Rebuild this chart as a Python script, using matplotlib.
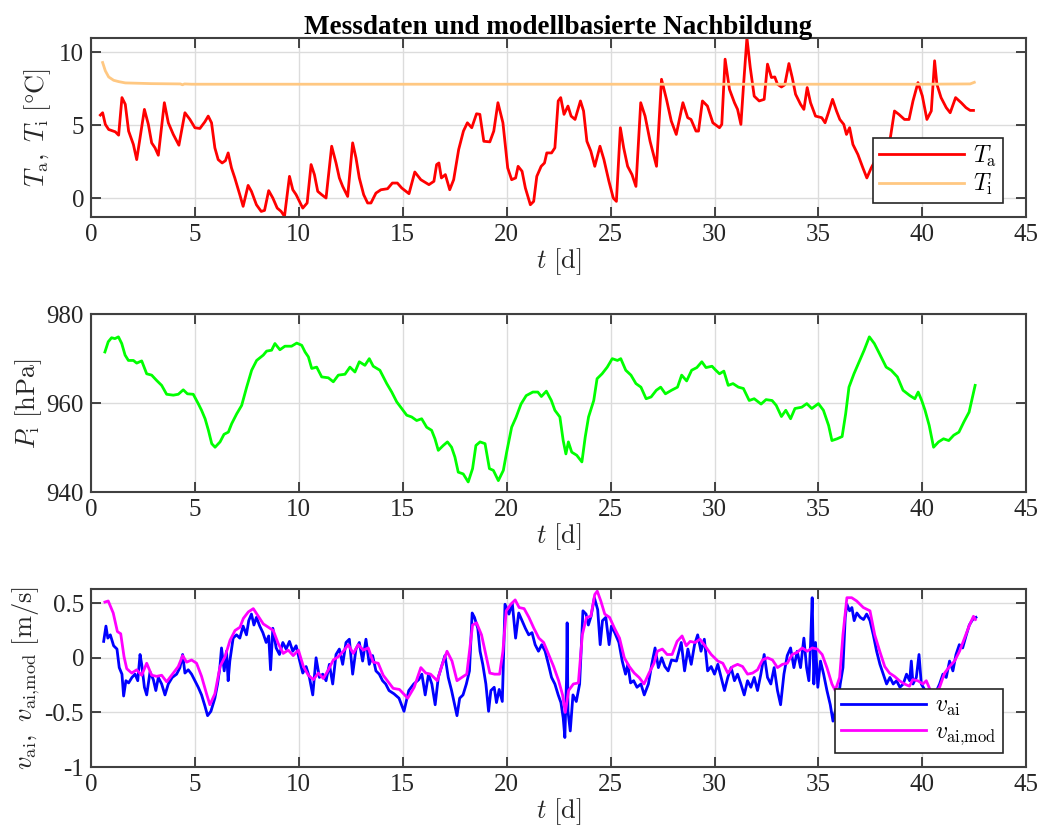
import numpy as np
import matplotlib
matplotlib.use("Agg")
import matplotlib.pyplot as plt

# Aussentemperatur T_a (Messung)
t_ta = [0.45, 0.56, 0.69, 0.85, 1.17, 1.33, 1.49, 1.65, 1.81, 2.04, 2.2, 2.36, 2.57, 2.76, 2.92,
        3.08, 3.24, 3.53, 3.72, 3.96, 4.23, 4.52, 4.76, 5.0, 5.24, 5.48, 5.64, 5.8, 5.96, 6.12,
        6.31, 6.47, 6.6, 6.76, 6.92, 7.16, 7.32, 7.56, 7.72, 7.96, 8.19, 8.35, 8.55, 8.75, 8.96,
        9.15, 9.31, 9.55, 9.71, 9.87, 10.03, 10.19, 10.4, 10.59, 10.75, 10.91, 11.1, 11.31, 11.58,
        11.79, 11.95, 12.11, 12.35, 12.59, 12.75, 12.91, 13.12, 13.31, 13.47, 13.71, 13.95, 14.27,
        14.5, 14.74, 14.95, 15.3, 15.58, 15.87, 16.26, 16.5, 16.63, 16.74, 16.86, 17.05, 17.26,
        17.45, 17.69, 17.92, 18.11, 18.32, 18.55, 18.71, 18.9, 19.19, 19.38, 19.58, 19.82, 20.05,
        20.24, 20.43, 20.55, 20.74, 20.9, 21.14, 21.3, 21.45, 21.66, 21.82, 21.93, 22.16, 22.32,
        22.48, 22.6, 22.76, 22.95, 23.1, 23.29, 23.55, 23.7, 23.86, 24.05, 24.24, 24.49, 24.68,
        24.92, 25.13, 25.28, 25.47, 25.63, 25.82, 26.03, 26.22, 26.45, 26.66, 26.9, 27.21, 27.45,
        27.69, 27.92, 28.16, 28.48, 28.71, 28.87, 29.11, 29.23, 29.42, 29.66, 29.92, 30.24, 30.35,
        30.51, 30.72, 30.96, 31.11, 31.27, 31.4, 31.56, 31.72, 31.91, 32.15, 32.39, 32.55, 32.74,
        32.9, 33.03, 33.22, 33.38, 33.58, 33.74, 33.9, 34.14, 34.3, 34.46, 34.62, 34.86, 35.16,
        35.32, 35.48, 35.68, 35.87, 36.03, 36.22, 36.35, 36.5, 36.66, 36.9, 37.14, 37.33, 37.54,
        37.9, 38.2, 38.44, 38.66, 38.87, 39.14, 39.36, 39.55, 39.79, 40.0, 40.22, 40.43, 40.59,
        40.7, 40.9, 41.15, 41.34, 41.6, 41.87, 42.1, 42.3, 42.46]
ta = [5.7, 5.86, 5.06, 4.71, 4.55, 4.32, 6.9, 6.44, 4.6, 3.68, 2.64, 4.14, 6.09, 5.06, 3.79,
      3.45, 2.94, 6.55, 5.17, 4.37, 3.63, 5.86, 5.4, 4.83, 4.78, 5.24, 5.63, 5.17, 3.45, 2.64,
      2.41, 2.57, 3.1, 2.07, 1.38, 0.23, -0.57, 0.87, 0.46, -0.46, -0.92, -0.85, 0.51, 0.0, -0.69,
      -0.92, -1.26, 1.49, 0.57, 0.23, -0.23, -0.69, -0.34, 2.3, 1.61, 0.46, 0.23, 0.0, 3.56,
      2.41, 1.38, 0.8, 0.11, 3.79, 2.76, 1.38, 0.23, -0.34, -0.34, 0.34, 0.57, 0.64,
      1.03, 1.03, 0.69, 0.3, 1.79, 1.26, 0.92, 1.15, 2.3, 2.41, 1.38, 1.61, 0.57,
      1.26, 3.33, 4.6, 5.17, 4.83, 5.79, 5.75, 3.9, 3.86, 4.6, 6.55, 5.17, 2.07,
      1.26, 1.38, 2.18, 1.84, 0.69, -0.46, -0.23, 1.49, 2.18, 2.41, 3.1, 3.1, 3.45,
      6.67, 6.9, 5.75, 6.32, 5.63, 5.4, 6.67, 5.98, 3.9, 3.22, 2.18, 3.56, 2.64,
      1.15, 0.0, -0.23, 4.83, 3.45, 2.18, 1.61, 0.8, 6.55, 5.63, 3.9, 2.18, 8.16,
      6.78, 5.29, 4.37, 6.55, 5.52, 5.4, 4.6, 4.6, 6.67, 6.32, 5.17, 4.83, 5.06,
      9.54, 7.47, 6.55, 6.09, 5.06, 7.82, 11.0, 8.97, 7.0, 6.67, 6.78, 9.2, 8.28,
      8.32, 7.82, 7.63, 7.78, 9.24, 8.28, 7.13, 6.44, 6.09, 7.59, 6.55, 5.63, 5.52,
      5.17, 5.86, 6.78, 5.98, 5.4, 5.06, 4.37, 4.83, 3.68, 2.99, 2.07, 1.38, 2.07,
      3.0, 3.6, 3.95, 5.98, 5.75, 5.4, 5.4, 6.67, 7.93, 7.01, 5.4, 5.98, 9.43,
      7.82, 6.9, 6.21, 5.86, 6.9, 6.55, 6.21, 6.02, 6.02]

# Innentemperatur T_i
t_ti = [0.56, 0.69, 0.85, 1.09, 1.33, 1.65, 2.92, 4.3, 4.4, 4.5, 4.84, 10.0, 20.0, 30.0, 40.0, 42.3, 42.5]
ti = [9.31, 8.74, 8.32, 8.09, 8.0, 7.91, 7.86, 7.84, 7.78, 7.84, 7.82, 7.82, 7.82, 7.82, 7.82, 7.84, 7.95]

# Innendruck P_i
t_p = [0.67, 0.83, 0.99, 1.15, 1.32, 1.48, 1.64, 1.8, 2.04, 2.2, 2.44, 2.68, 2.92, 3.16, 3.4,
       3.64, 3.96, 4.2, 4.44, 4.64, 4.92, 5.16, 5.32, 5.49, 5.65, 5.81, 5.97, 6.21, 6.4, 6.61,
       6.77, 7.01, 7.25, 7.49, 7.73, 7.97, 8.29, 8.45, 8.69, 8.85, 9.09, 9.33, 9.65, 9.9, 10.14,
       10.3, 10.46, 10.62, 10.86, 11.1, 11.42, 11.66, 11.9, 12.22, 12.46, 12.7, 12.91, 13.18,
       13.39, 13.58, 13.9, 14.23, 14.47, 14.71, 14.95, 15.19, 15.43, 15.67, 15.91, 16.15, 16.39,
       16.55, 16.71, 16.95, 17.15, 17.35, 17.51, 17.67, 17.91, 18.15, 18.36, 18.52, 18.72, 18.96,
       19.17, 19.36, 19.6, 19.84, 20.0, 20.24, 20.45, 20.69, 20.94, 21.26, 21.5, 21.67, 21.91,
       22.15, 22.32, 22.56, 22.72, 22.85, 22.97, 23.13, 23.37, 23.62, 23.78, 23.94, 24.19, 24.35,
       24.59, 24.84, 25.08, 25.33, 25.49, 25.73, 25.98, 26.22, 26.46, 26.71, 26.95, 27.2, 27.41,
       27.64, 27.93, 28.22, 28.42, 28.66, 28.9, 29.15, 29.39, 29.59, 29.88, 30.04, 30.24, 30.45,
       30.66, 30.89, 31.15, 31.39, 31.67, 31.91, 32.24, 32.48, 32.77, 32.97, 33.22, 33.43, 33.66,
       33.87, 34.2, 34.44, 34.68, 35.0, 35.24, 35.49, 35.65, 35.9, 36.14, 36.31, 36.47, 36.71,
       36.96, 37.2, 37.45, 37.69, 37.94, 38.26, 38.5, 38.8, 39.07, 39.4, 39.64, 39.8, 39.97,
       40.13, 40.33, 40.54, 40.78, 41.02, 41.27, 41.51, 41.76, 42.0, 42.25, 42.54]
p = [971.5, 973.8, 974.7, 974.5, 974.9, 973.4, 970.8, 969.6, 969.6, 969.0, 969.5, 966.6, 966.3, 965.1, 964.0,
     962.0, 961.8, 962.0, 963.0, 962.1, 962.0, 959.9, 958.4, 956.5, 953.9, 950.9, 950.1, 951.3, 953.0, 953.5,
     955.4, 957.6, 959.5, 963.6, 967.4, 969.6, 970.8, 971.7, 971.9, 973.4, 972.0, 972.8, 972.8, 973.5, 973.0,
     971.5, 970.4, 967.8, 968.1, 965.9, 965.7, 964.8, 966.3, 966.5, 968.1, 967.0, 969.3, 968.5,
     970.0, 968.3, 967.4, 964.4, 962.5, 960.3, 958.8, 957.3, 956.9, 956.1, 956.5, 954.6, 953.9,
     952.0, 949.4, 950.5, 951.3, 950.1, 947.9, 944.5, 944.1, 942.3, 945.3, 950.5, 951.3, 950.9,
     945.3, 944.9, 942.6, 944.9, 949.0, 954.6, 956.8, 959.8, 961.7, 962.5, 962.5, 961.5, 962.7,
     960.6, 958.4, 956.9, 951.6, 948.6, 951.3, 949.0, 948.3, 946.8, 952.4, 956.9, 960.6, 965.5,
     966.6, 968.1, 970.0, 969.6, 970.0, 967.4, 966.3, 964.4, 963.6, 961.0, 961.4, 962.9, 963.6,
     962.1, 962.9, 963.6, 966.3, 965.0, 967.4, 968.0, 969.3, 968.0, 968.3, 967.5, 966.6, 967.2,
     964.0, 964.4, 963.6, 963.3, 960.6, 961.0, 959.8, 960.8, 960.6, 959.5, 957.0, 958.4, 956.5,
     958.8, 959.1, 959.9, 958.8, 959.9, 958.4, 955.0, 951.6, 952.0, 952.5, 957.6, 963.6, 966.6,
     969.3, 971.9, 974.9, 973.4, 971.1, 968.1, 967.4, 965.9, 962.9, 961.7, 961.0, 962.5, 960.6,
     958.4, 955.0, 950.1, 951.3, 952.0, 951.6, 952.8, 953.5, 955.8, 958.0, 964.0]

# Luftgeschwindigkeit v_ai (Messung)
t_v = [0.61, 0.72, 0.81, 0.93, 1.09, 1.25, 1.36, 1.49, 1.57, 1.68, 1.81, 1.97, 2.12, 2.25, 2.36,
       2.44, 2.57, 2.68, 2.84, 3.0, 3.12, 3.24, 3.4, 3.56, 3.72, 3.91, 4.12, 4.28, 4.41, 4.52,
       4.68, 4.84, 5.0, 5.16, 5.32, 5.48, 5.61, 5.77, 5.96, 6.09, 6.2, 6.28, 6.41, 6.52, 6.6,
       6.68, 6.84, 7.0, 7.16, 7.32, 7.48, 7.59, 7.72, 7.84, 7.96, 8.12, 8.27, 8.43, 8.55, 8.64,
       8.75, 8.91, 9.07, 9.23, 9.39, 9.55, 9.71, 9.87, 10.03, 10.19, 10.35, 10.51, 10.67, 10.83,
       10.99, 11.15, 11.31, 11.47, 11.63, 11.79, 11.95, 12.11, 12.27, 12.43, 12.59, 12.75, 12.91,
       13.07, 13.23, 13.39, 13.55, 13.71, 13.87, 14.03, 14.18, 14.34, 14.58, 14.82, 15.06, 15.29,
       15.53, 15.77, 15.92, 16.08, 16.24, 16.4, 16.56, 16.71, 16.87, 17.03, 17.19, 17.35, 17.5,
       17.61, 17.74, 17.9, 18.06, 18.21, 18.34, 18.45, 18.61, 18.72, 18.85, 19.0, 19.13, 19.24,
       19.4, 19.51, 19.64, 19.79, 19.92, 20.11, 20.27, 20.43, 20.58, 20.74, 20.9, 21.06, 21.22,
       21.37, 21.53, 21.69, 21.85, 22.01, 22.16, 22.32, 22.48, 22.61, 22.72, 22.8, 22.88, 22.91,
       22.95, 23.06, 23.19, 23.35, 23.51, 23.67, 23.82, 23.93, 24.06, 24.22, 24.38, 24.5, 24.61,
       24.77, 24.93, 25.04, 25.2, 25.4, 25.56, 25.72, 25.83, 25.96, 26.11, 26.27, 26.46, 26.62,
       26.82, 26.98, 27.14, 27.3, 27.46, 27.61, 27.77, 27.93, 28.17, 28.4, 28.56, 28.72, 28.88,
       29.04, 29.19, 29.35, 29.51, 29.67, 29.84, 30.0, 30.16, 30.32, 30.48, 30.64, 30.8, 30.96,
       31.11, 31.27, 31.43, 31.59, 31.75, 31.91, 32.07, 32.23, 32.39, 32.55, 32.71, 32.87, 33.03,
       33.18, 33.34, 33.5, 33.66, 33.82, 33.98, 34.14, 34.3, 34.43, 34.54, 34.62, 34.7, 34.78,
       34.86, 34.97, 35.1, 35.25, 35.41, 35.57, 35.7, 35.81, 35.92, 36.05, 36.18, 36.29, 36.37,
       36.5, 36.61, 36.72, 36.85, 37.01, 37.17, 37.32, 37.48, 37.64, 37.8, 37.96, 38.12, 38.28,
       38.44, 38.6, 38.76, 38.92, 39.08, 39.24, 39.39, 39.47, 39.55, 39.71, 39.84, 39.95, 40.2,
       40.5, 40.83, 40.99, 41.15, 41.31, 41.47, 41.62, 41.78, 41.94, 42.1, 42.26, 42.42, 42.58]
v = [0.15, 0.29, 0.18, 0.21, 0.11, 0.08, -0.09, -0.15, -0.35, -0.21, -0.23, -0.18, -0.15, -0.21, 0.03,
     -0.06, -0.27, -0.34, -0.13, -0.2, -0.3, -0.18, -0.24, -0.34, -0.24, -0.18, -0.15, -0.09, 0.03, -0.14,
     -0.11, -0.15, -0.21, -0.27, -0.34, -0.44, -0.53, -0.49, -0.37, -0.24, -0.09, 0.09, -0.12, 0.06, -0.21,
     -0.03, 0.18, 0.21, 0.18, 0.29, 0.21, 0.34, 0.4, 0.3, 0.37, 0.29, 0.23, 0.14, 0.2, -0.11,
     0.27, 0.09, 0.03, 0.14, 0.08, 0.15, 0.06, 0.11, -0.02, -0.14, -0.08, -0.18, -0.34, 0.0,
     -0.18, -0.15, -0.21, -0.06, -0.24, 0.03, 0.08, -0.06, 0.14, 0.17, -0.15, 0.08, 0.14,
     -0.03, 0.17, -0.06, 0.02, -0.12, -0.15, -0.21, -0.24, -0.3, -0.33, -0.37, -0.49, -0.3,
     -0.24, -0.2, -0.15, -0.34, -0.15, -0.24, -0.43, -0.18, -0.08, 0.02, -0.18, -0.3, -0.43,
     -0.53, -0.37, -0.34, -0.24, -0.12, 0.41, 0.37, 0.27, 0.06, -0.06, -0.24, -0.49, -0.3,
     -0.27, -0.41, -0.29, -0.4, 0.49, 0.4, 0.5, 0.18, 0.41, 0.34, 0.27, 0.21, 0.23,
     0.12, 0.06, 0.12, 0.06, -0.06, -0.18, -0.24, -0.34, -0.41, -0.55, -0.73, -0.2, 0.32,
     -0.49, -0.67, -0.34, -0.4, -0.24, 0.43, 0.4, 0.3, 0.38, 0.55, 0.44, 0.12, 0.34,
     0.37, 0.12, 0.29, 0.23, 0.14, -0.03, -0.15, -0.06, -0.23, -0.21, -0.27, -0.24, -0.34,
     -0.24, -0.06, 0.09, -0.09, 0.0, -0.08, -0.12, -0.02, -0.03, 0.14, -0.12, 0.08, -0.06,
     0.12, 0.21, 0.06, 0.17, -0.12, -0.08, -0.15, -0.06, -0.18, -0.3, -0.18, -0.09, -0.21,
     -0.15, -0.24, -0.34, -0.21, -0.27, -0.18, -0.3, -0.15, 0.03, -0.18, -0.24, -0.09, -0.3,
     -0.43, -0.15, 0.02, 0.09, -0.09, 0.06, -0.09, 0.18, -0.09, -0.21, 0.12, 0.55, -0.24,
     0.14, -0.27, -0.03, -0.15, -0.3, -0.43, -0.58, -0.49, -0.43, -0.24, -0.09, 0.37, 0.49,
     0.43, 0.46, 0.34, 0.41, 0.37, 0.35, 0.4, 0.34, 0.21, 0.06, -0.06, -0.15, -0.24,
     -0.18, -0.24, -0.21, -0.27, -0.24, -0.15, -0.21, -0.03, -0.24, -0.18, 0.03, -0.24, -0.32,
     -0.38, -0.24, -0.15, -0.18, -0.03, -0.12, 0.03, 0.12, 0.09, 0.2, 0.3, 0.35, 0.37]

# Luftgeschwindigkeit v_ai,mod (Modell)
t_vm = [0.67, 0.83, 1.07, 1.27, 1.43, 1.59, 1.72, 1.96, 2.2, 2.44, 2.68, 2.92, 3.16, 3.4, 3.64,
        3.96, 4.2, 4.41, 4.6, 4.84, 5.08, 5.32, 5.56, 5.72, 5.96, 6.21, 6.45, 6.69, 6.93, 7.17,
        7.33, 7.57, 7.81, 8.05, 8.29, 8.53, 8.77, 9.01, 9.25, 9.49, 9.73, 9.98, 10.22, 10.46,
        10.7, 10.94, 11.18, 11.42, 11.66, 11.9, 12.14, 12.38, 12.62, 12.86, 13.1, 13.34, 13.58,
        13.82, 14.06, 14.3, 14.54, 14.84, 15.24, 15.55, 15.87, 16.11, 16.34, 16.66, 16.9, 17.13,
        17.37, 17.61, 17.84, 18.08, 18.36, 18.55, 18.79, 19.03, 19.19, 19.42, 19.66, 19.82, 19.98,
        20.2, 20.41, 20.6, 20.84, 21.07, 21.31, 21.55, 21.78, 22.02, 22.26, 22.5, 22.69, 22.82,
        22.98, 23.21, 23.45, 23.64, 23.84, 24.05, 24.24, 24.36, 24.53, 24.72, 24.95, 25.19, 25.43,
        25.66, 25.9, 26.14, 26.37, 26.61, 26.85, 27.09, 27.25, 27.49, 27.72, 27.96, 28.2, 28.44,
        28.64, 28.83, 29.07, 29.3, 29.54, 29.84, 30.16, 30.4, 30.64, 30.88, 31.11, 31.35, 31.59,
        31.83, 32.07, 32.31, 32.55, 32.79, 33.03, 33.27, 33.5, 33.74, 33.98, 34.22, 34.46, 34.7,
        34.94, 35.18, 35.41, 35.65, 35.81, 36.02, 36.18, 36.37, 36.6, 36.84, 37.16, 37.48, 37.71,
        37.95, 38.19, 38.42, 38.66, 38.9, 39.14, 39.38, 39.54, 39.78, 40.03, 40.19, 40.5, 40.83,
        41.07, 41.31, 41.55, 41.79, 42.03, 42.27, 42.46, 42.55]
vm = [0.51, 0.52, 0.41, 0.24, 0.22, 0.01, -0.1, -0.14, -0.11, -0.16, -0.05, -0.16, -0.17, -0.16, -0.22,
      -0.14, -0.08, 0.02, -0.04, -0.02, -0.05, -0.17, -0.33, -0.43, -0.33, -0.08, 0.01, 0.16, 0.25, 0.28,
      0.36, 0.42, 0.45, 0.38, 0.31, 0.28, 0.25, 0.13, 0.04, 0.07, 0.02, 0.07, -0.08, -0.16,
      -0.2, -0.14, -0.19, -0.11, -0.02, 0.01, 0.06, 0.12, 0.04, 0.12, 0.07, 0.09, -0.04,
      -0.05, -0.16, -0.22, -0.28, -0.29, -0.37, -0.27, -0.09, -0.14, -0.15, -0.21, -0.06, 0.06,
      -0.03, -0.21, -0.18, -0.15, 0.3, 0.32, 0.21, 0.0, -0.14, -0.15, -0.15, 0.06, 0.43,
      0.49, 0.53, 0.46, 0.45, 0.37, 0.27, 0.18, 0.14, 0.03, -0.08, -0.21, -0.34, -0.5,
      -0.3, -0.24, -0.23, 0.21, 0.37, 0.38, 0.58, 0.61, 0.52, 0.4, 0.37, 0.27, 0.18,
      0.0, -0.08, -0.14, -0.18, -0.24, -0.14, -0.05, 0.06, 0.08, 0.03, 0.03, 0.15, 0.2,
      0.11, 0.15, 0.14, 0.17, 0.11, 0.03, -0.03, -0.05, -0.14, -0.08, -0.06, -0.08, -0.15,
      -0.14, -0.11, -0.02, 0.0, -0.02, -0.09, -0.06, -0.05, 0.03, 0.05, 0.09, 0.06, 0.09,
      0.08, 0.03, -0.09, -0.24, -0.3, -0.18, 0.21, 0.55, 0.55, 0.52, 0.46, 0.43, 0.21,
      0.06, -0.08, -0.14, -0.17, -0.21, -0.24, -0.26, -0.2, -0.21, -0.24, -0.21, -0.35, -0.27,
      -0.14, -0.08, -0.03, 0.06, 0.18, 0.3, 0.38, 0.35]

plt.rcParams['font.family'] = 'Liberation Serif'
plt.rcParams['mathtext.fontset'] = 'cm'
plt.rcParams['axes.unicode_minus'] = False

fig = plt.figure(figsize=(10.58, 8.3), dpi=100)

axes_rects = [[0.086, 0.7386, 0.884, 0.2157],
              [0.086, 0.407, 0.884, 0.2145],
              [0.086, 0.0759, 0.884, 0.2145]]
axs = [fig.add_axes(r) for r in axes_rects]

tick_fs = 18
label_fs = 19
lw = 2.0

for ax in axs:
    ax.set_xlim(0, 45)
    ax.set_xticks(np.arange(0, 46, 5))
    ax.grid(True, color='#dcdcdc', linewidth=1.0)
    ax.set_axisbelow(True)
    ax.tick_params(direction='in', top=True, right=True, length=7, width=1.2,
                   color='#262626', labelsize=tick_fs, pad=5, labelcolor='#262626')
    for s in ax.spines.values():
        s.set_color('#404040')
        s.set_linewidth(1.5)
    ax.set_xlabel(r'$t\ [\mathrm{d}]$', fontsize=label_fs, labelpad=0, color='#262626')

# Temperaturen
ax = axs[0]
ax.plot(t_ta, ta, color='#ff0000', linewidth=lw, label=r'$T_\mathrm{a}$')
ax.plot(t_ti, ti, color='#ffc882', linewidth=lw, label=r'$T_\mathrm{i}$')
ax.set_ylim(-1.3, 11.0)
ax.set_yticks([0, 5, 10])
ax.set_ylabel(r'$T_\mathrm{a},\ T_\mathrm{i}\ [\degree\mathrm{C}]$', fontsize=label_fs,
              color='#262626', labelpad=4)
ax.set_title('Messdaten und modellbasierte Nachbildung', fontsize=19.5, fontweight='bold', pad=3)
leg = ax.legend(loc='lower right', bbox_to_anchor=(0.975, 0.078), fontsize=17,
                handlelength=3.6, fancybox=False, edgecolor='#262626', framealpha=1,
                borderaxespad=0, borderpad=0.25, labelspacing=0.15, handletextpad=0.4)
leg.get_frame().set_linewidth(1.2)

# Druck
ax = axs[1]
ax.plot(t_p, p, color='#00ff00', linewidth=lw)
ax.set_ylim(940, 980)
ax.set_yticks([940, 960, 980])
ax.set_ylabel(r'$P_\mathrm{i}\ [\mathrm{hPa}]$', fontsize=label_fs, color='#262626', labelpad=2)

# Geschwindigkeit
ax = axs[2]
ax.plot(t_v, v, color='#0000ff', linewidth=lw, label=r'$v_\mathrm{ai}$')
ax.plot(t_vm, vm, color='#ff00ff', linewidth=lw, label=r'$v_\mathrm{ai{,}mod}$')
ax.set_ylim(-1.0, 0.63)
ax.set_yticks([-1, -0.5, 0, 0.5])
ax.set_yticklabels(['-1', '-0.5', '0', '0.5'])
ax.set_ylabel(r'$v_\mathrm{ai},\ v_\mathrm{ai{,}mod}\ [\mathrm{m/s}]$', fontsize=label_fs,
              color='#262626', labelpad=2)
leg = ax.legend(loc='lower right', bbox_to_anchor=(0.975, 0.079), fontsize=17,
                handlelength=3.6, fancybox=False, edgecolor='#262626', framealpha=1,
                borderaxespad=0, borderpad=0.25, labelspacing=0.15, handletextpad=0.4)
leg.get_frame().set_linewidth(1.2)

fig.savefig('out.png', dpi=100)
